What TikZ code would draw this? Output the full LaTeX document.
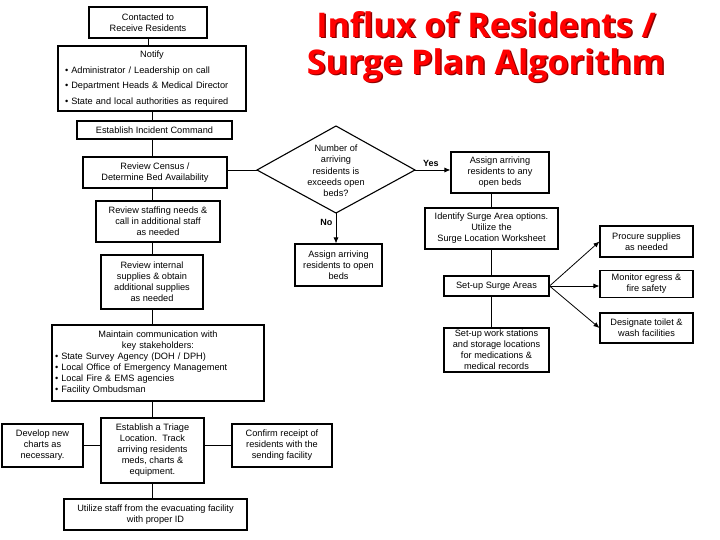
\documentclass[tikz,border=0pt]{standalone}
\usepackage{fontspec}
\setmainfont{Liberation Sans}
\newfontfamily\titlefont{Open Sans}
\usetikzlibrary{arrows.meta}

\begin{document}
\begin{tikzpicture}[x=1pt, y=-1pt,
    box/.style={draw, line width=1.1pt, align=center, inner sep=2pt,
        font=\fontsize{9.2}{11}\selectfont},
    heavy/.style={box, line width=1.6pt},
    link/.style={line width=0.8pt},
    arrow/.style={link, -{Latex[length=6pt, width=5pt]}},
    answer/.style={font=\fontsize{9}{11}\selectfont\bfseries},
    headline/.style={font=\titlefont\bfseries\fontsize{34}{37}\selectfont, align=center}]
    \useasboundingbox (0,0) rectangle (720,540);

    % title
    \node[headline, text=red!55!black] (titleshadow) at (487.5,48.5) {Influx of Residents /\\Surge Plan Algorithm};
    \node[headline, text=red] (title) at (486,47) {Influx of Residents /\\Surge Plan Algorithm};

    % main column
    \node[box, minimum width=118, minimum height=31] (contact) at (148,22.5) {Contacted to\\Receive Residents};
    \node[heavy, minimum width=188, minimum height=65, text width=174, align=left,
        font=\fontsize{9.2}{15.5}\selectfont] (notify) at (152,78.5)
        {\hfill Notify\hfill\null\\
         • Administrator / Leadership on call\\
         • Department Heads \& Medical Director\\
         • State and local authorities as required};
    \node[heavy, minimum width=155, minimum height=18] (incident) at (154.5,130) {Establish Incident Command};
    \node[box, minimum width=144, minimum height=31] (census) at (155,172.5) {Review Census /\\Determine Bed Availability};
    \node[box, minimum width=124, minimum height=41] (staffing) at (158,221.5) {Review staffing needs \&\\call in additional staff\\as needed};
    \node[box, minimum width=102, minimum height=54] (internal) at (152,282) {Review internal\\supplies \& obtain\\additional supplies\\as needed};
    \node[box, minimum width=212, minimum height=76, text width=206, align=left] (maintain) at (158,363)
        {\hfill Maintain communication with\hfill\null\\
         \hfill key stakeholders:\hfill\null\\
         • State Survey Agency (DOH / DPH)\\
         • Local Office of Emergency Management\\
         • Local Fire \& EMS agencies\\
         • Facility Ombudsman};
    \node[box, minimum width=103, minimum height=65] (triage) at (152.5,450.5) {Establish a Triage\\Location.\ \ Track\\arriving residents\\meds, charts \&\\equipment.};
    \node[box, minimum width=81, minimum height=43] (develop) at (42.5,445.5) {Develop new\\charts as\\necessary.};
    \node[box, minimum width=100, minimum height=43] (confirm) at (282,445.5) {Confirm receipt of\\residents with the\\sending facility};
    \node[box, minimum width=183, minimum height=31] (utilize) at (155.5,514.5) {Utilize staff from the evacuating facility\\with proper ID};

    % decision
    \coordinate (qleft) at (257,170);
    \coordinate (qtop) at (336,126);
    \coordinate (qright) at (415,170);
    \coordinate (qbottom) at (336,213);
    \draw[line width=1.1pt] (qleft) -- (qtop) -- (qright) -- (qbottom) -- cycle;
    \node[font=\fontsize{9.2}{11.3}\selectfont, align=center] (question) at (336,171) {Number of\\arriving\\residents is\\exceeds open\\beds?};
    \node[box, minimum width=87, minimum height=42] (beds) at (338.5,265) {Assign arriving\\residents to open\\beds};

    % surge column
    \node[box, minimum width=98, minimum height=41] (anyopen) at (500,172.5) {Assign arriving\\residents to any\\open beds};
    \node[box, minimum width=133, minimum height=41] (identify) at (491.5,228.5) {Identify Surge Area options.\\Utilize the\\Surge Location Worksheet};
    \node[box, minimum width=105, minimum height=20] (surgeup) at (496.5,286) {Set-up Surge Areas};
    \node[box, minimum width=105, minimum height=44] (stations) at (496.5,350) {Set-up work stations\\and storage locations\\for medications \&\\medical records};
    \node[box, minimum width=93, minimum height=31] (procure) at (646.5,241.5) {Procure supplies\\as needed};
    \node[box, minimum width=93, minimum height=27] (monitor) at (646.5,284) {Monitor egress \&\\fire safety};
    \node[box, minimum width=93, minimum height=30] (designate) at (646.5,328) {Designate toilet \&\\wash facilities};

    % connectors
    \draw[link] (contact) -- (contact |- notify.north);
    \draw[link] (notify) -- (notify |- incident.north);
    \draw[link] (notify |- incident.south) -- (notify |- census.north);
    \draw[link] (internal |- census.south) -- (internal |- staffing.north);
    \draw[link] (internal |- staffing.south) -- (internal);
    \draw[link] (internal) -- (internal |- maintain.north);
    \draw[link] (triage |- maintain.south) -- (triage);
    \draw[link] (triage) -- (triage |- utilize.north);
    \draw[link] (develop) -- (develop -| triage.west);
    \draw[link] (confirm) -- (confirm -| triage.east);
    \draw[link] (census.east |- qleft) -- (qleft);
    \draw[arrow] (qbottom) -- (qbottom |- beds.north) node[answer, left, pos=0.3] {No};
    \draw[arrow] (qright) -- (qright -| anyopen.west) node[answer, above, pos=0.45] {Yes};
    \draw[link] (identify) -- (identify |- anyopen.south);
    \draw[link] (identify) -- (identify |- surgeup.north);
    \draw[link] (identify |- surgeup.south) -- (identify |- stations.north);
    \draw[arrow] (surgeup.east) -- (procure.west);
    \draw[arrow] (surgeup.east) -- (surgeup.east -| monitor.west);
    \draw[arrow] (surgeup.east) -- (designate.west);
\end{tikzpicture}
\end{document}
